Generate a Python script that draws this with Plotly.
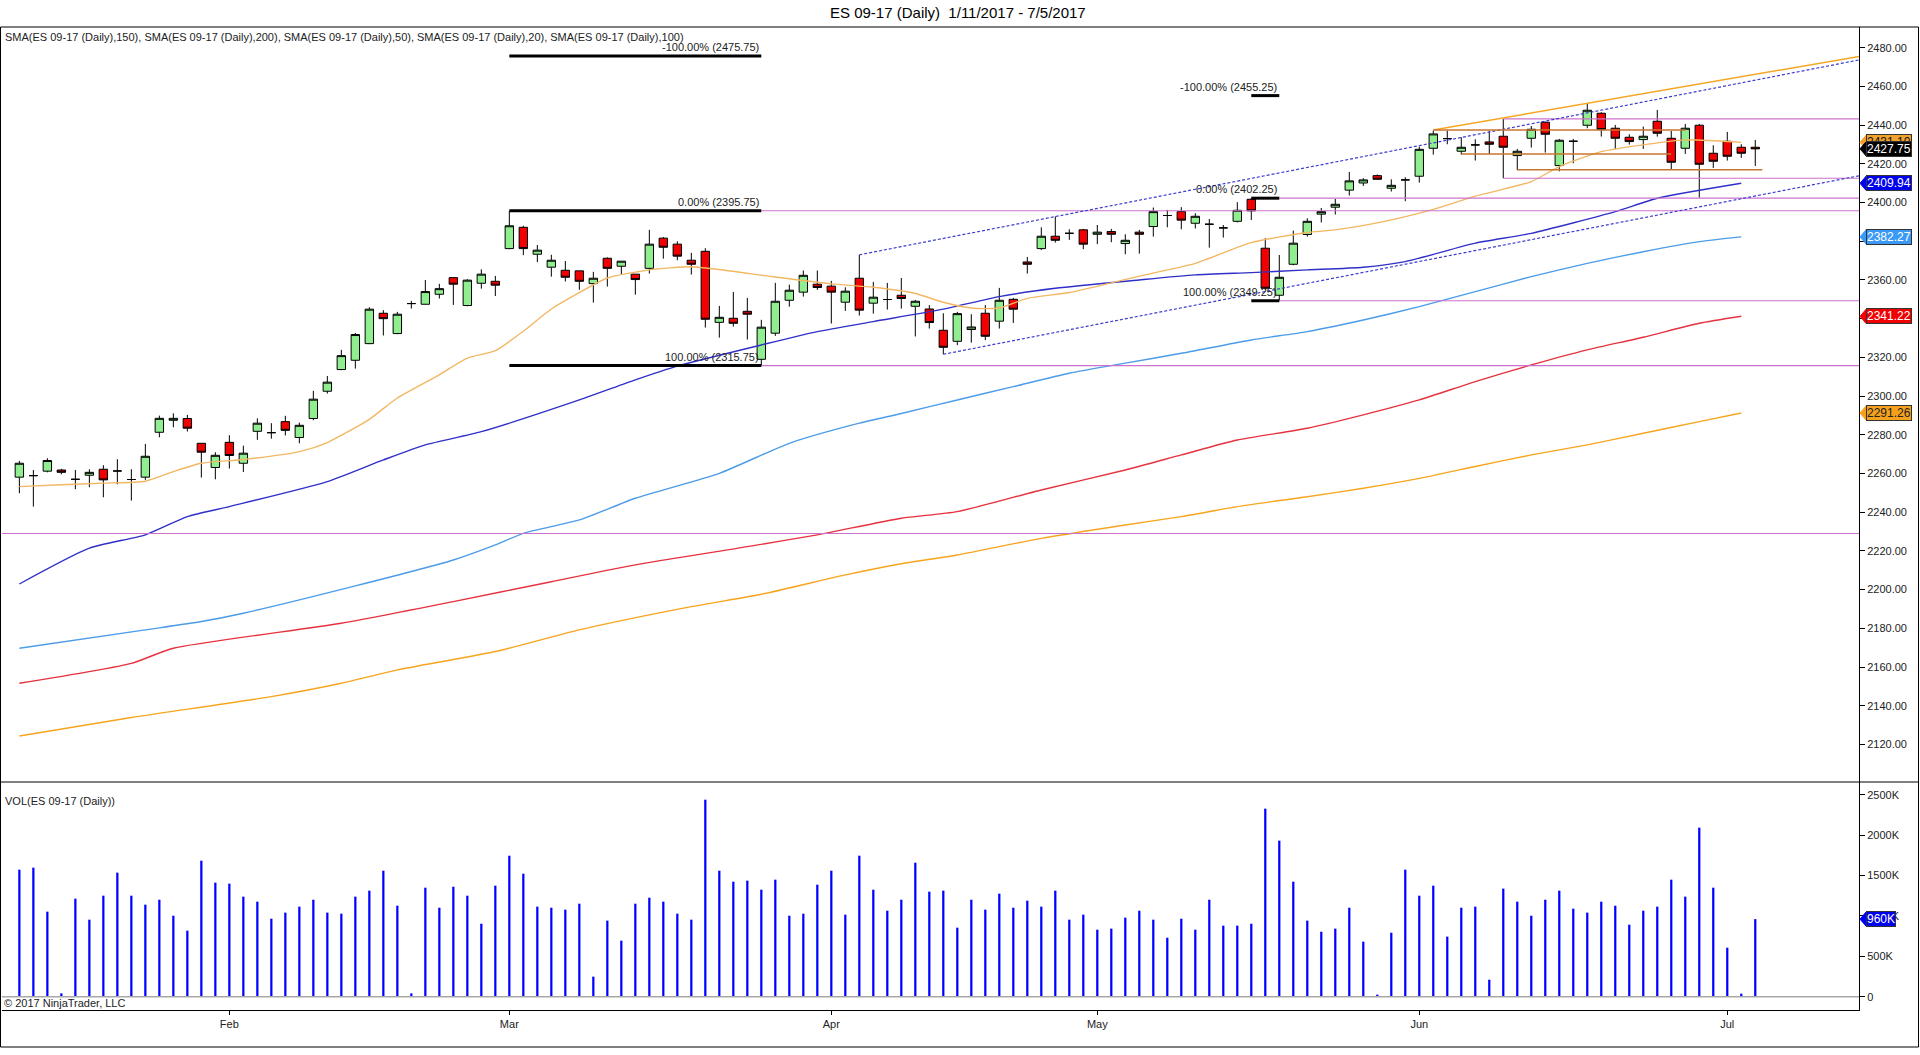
import plotly.graph_objects as go
import pandas as pd

# ---------------- text ----------------
TITLE = "ES 09-17 (Daily)  1/11/2017 - 7/5/2017"
SMA_LABEL = ("SMA(ES 09-17 (Daily),150), SMA(ES 09-17 (Daily),200), SMA(ES 09-17 (Daily),50), "
             "SMA(ES 09-17 (Daily),20), SMA(ES 09-17 (Daily),100)")
VOL_LABEL = "VOL(ES 09-17 (Daily))"
COPYRIGHT = "© 2017 NinjaTrader, LLC"

# ---------------- categories ----------------
DATES = [d for d in pd.bdate_range("2017-01-11", "2017-07-05") if d != pd.Timestamp("2017-04-14")]
MONTH_LABELS = ["Feb", "Mar", "Apr", "May", "Jun", "Jul"]
MONTH_NUMBERS = [2, 3, 4, 5, 6, 7]

# ---------------- OHLC ----------------
OPEN = [2258.1, 2258.9, 2261.2, 2261.8, 2257.0, 2259.1, 2262.2, 2261.3, 2256.9, 2258.1,
        2281.3, 2287.5, 2288.4, 2275.6, 2263.1, 2276.1, 2265.3, 2281.8, 2281.1, 2286.8,
        2278.6, 2288.4, 2302.5, 2313.7, 2318.5, 2327.1, 2342.8, 2332.3, 2347.8, 2347.45,
        2352.6, 2361.2, 2346.8, 2358.3, 2359.3,
        2376.2, 2387.2, 2373.3, 2366.6, 2365.0, 2364.7, 2358.1, 2371.2, 2367.1, 2363.0,
        2366.0, 2381.6, 2378.5, 2370.2, 2374.8, 2338.1, 2340.2, 2343.8, 2319.0, 2332.5,
        2349.5, 2353.7, 2357.8, 2356.8, 2348.5, 2360.9, 2348.0, 2349.9, 2352.1, 2346.4,
        2345.0, 2334.0, 2328.3, 2334.4, 2342.8, 2338.7, 2350.0, 2369.3, 2376.2, 2382.6,
        2384.1, 2385.9, 2383.6, 2385.0, 2378.8, 2384.7, 2387.6, 2393.3, 2395.3, 2389.3,
        2388.8, 2386.9, 2390.3, 2401.7, 2376.4, 2352.1, 2368.1, 2383.5, 2394.0, 2397.6,
        2406.4, 2410.1, 2413.9, 2407.4, 2411.7, 2413.6, 2428.05, 2433.05, 2426.5, 2429.77,
        2431.32, 2434.25, 2424.26, 2433.22, 2441.49, 2419.1, 2431.67, 2439.94, 2446.14, 2438.39,
        2433.74, 2432.53, 2442.0, 2433.22, 2428.05, 2439.94, 2425.47, 2431.67, 2428.57, 2428.57]
HIGH = [2266.5, 2261.8, 2267.9, 2262.4, 2261.8, 2262.2, 2264.3, 2267.4, 2262.2, 2275.3,
        2289.9, 2291.1, 2290.3, 2275.6, 2271.0, 2279.8, 2274.4, 2288.5, 2286.0, 2289.8,
        2286.3, 2302.7, 2310.4, 2323.9, 2332.6, 2345.9, 2344.4, 2343.5, 2349.2, 2360.0,
        2358.0, 2361.2, 2360.4, 2365.5, 2362.1,
        2395.75, 2388.0, 2378.1, 2373.0, 2369.8, 2364.7, 2364.2, 2371.7, 2369.7, 2363.0,
        2385.9, 2382.2, 2380.0, 2374.0, 2376.4, 2346.6, 2353.8, 2350.7, 2339.4, 2358.5,
        2357.6, 2364.9, 2364.9, 2359.5, 2356.2, 2373.0, 2359.0, 2358.5, 2361.0, 2349.7,
        2347.0, 2342.8, 2343.5, 2342.3, 2347.0, 2355.9, 2350.7, 2371.9, 2387.2, 2392.8,
        2386.2, 2386.4, 2388.4, 2386.4, 2383.6, 2385.9, 2397.4, 2396.2, 2397.6, 2394.5,
        2391.5, 2388.4, 2400.2, 2402.25, 2381.6, 2372.9, 2385.5, 2391.9, 2397.2, 2401.9,
        2415.8, 2412.6, 2414.5, 2412.0, 2413.1, 2428.9, 2437.18, 2437.18, 2433.74, 2432.7,
        2437.0, 2443.2, 2427.7, 2439.59, 2441.83, 2432.87, 2432.87, 2451.13, 2446.65, 2440.11,
        2435.29, 2439.25, 2447.86, 2437.01, 2440.63, 2440.63, 2429.6, 2436.49, 2430.12, 2432.36]
LOW = [2249.8, 2242.9, 2260.6, 2259.6, 2251.9, 2252.9, 2247.7, 2254.4, 2246.0, 2256.7,
       2278.7, 2283.9, 2281.7, 2257.9, 2257.0, 2262.6, 2260.8, 2277.4, 2278.0, 2279.6,
       2275.6, 2287.5, 2301.3, 2313.4, 2314.2, 2326.8, 2331.3, 2332.0, 2345.2, 2347.4,
       2350.4, 2347.1, 2346.4, 2355.5, 2351.7,
       2375.9, 2372.8, 2369.2, 2361.7, 2359.2, 2354.9, 2348.3, 2356.6, 2362.8, 2352.4,
       2363.3, 2371.0, 2370.2, 2362.8, 2335.4, 2330.2, 2335.9, 2329.2, 2315.75, 2331.1,
       2346.2, 2351.4, 2354.9, 2337.5, 2344.0, 2341.6, 2342.6, 2344.7, 2345.2, 2330.8,
       2334.9, 2321.6, 2326.3, 2327.6, 2328.9, 2334.9, 2337.8, 2363.3, 2375.5, 2379.3,
       2380.7, 2375.9, 2378.5, 2379.5, 2373.3, 2373.6, 2382.4, 2387.2, 2386.2, 2386.6,
       2376.7, 2381.9, 2389.7, 2391.0, 2354.9, 2349.25, 2367.6, 2382.4, 2389.7, 2393.8,
       2403.6, 2408.6, 2412.0, 2405.7, 2400.7, 2410.3, 2424.78, 2430.12, 2424.78, 2421.68,
       2425.12, 2412.55, 2416.68, 2428.4, 2425.81, 2416.17, 2420.3, 2438.39, 2434.08, 2427.71,
       2429.95, 2427.71, 2434.08, 2416.86, 2425.12, 2402.56, 2417.89, 2421.68, 2423.06, 2418.92]
CLOSE = [2265.3, 2258.9, 2266.7, 2260.6, 2257.0, 2260.6, 2256.7, 2261.3, 2256.9, 2268.9,
         2288.5, 2288.5, 2283.4, 2271.0, 2269.4, 2269.3, 2270.5, 2286.0, 2281.1, 2282.3,
         2284.9, 2298.4, 2307.2, 2320.9, 2331.8, 2344.9, 2340.0, 2342.3, 2347.8, 2354.0,
         2355.5, 2357.8, 2359.9, 2363.0, 2357.3,
         2388.0, 2376.2, 2375.4, 2370.2, 2361.4, 2359.3, 2360.9, 2366.0, 2369.7, 2360.2,
         2378.5, 2376.9, 2372.3, 2368.1, 2339.7, 2340.7, 2337.6, 2342.3, 2335.6, 2349.0,
         2354.7, 2362.4, 2356.1, 2353.7, 2354.2, 2344.4, 2351.1, 2349.9, 2350.4, 2349.0,
         2338.0, 2325.2, 2342.6, 2335.7, 2330.9, 2349.5, 2344.9, 2368.1, 2382.6, 2380.5,
         2384.1, 2378.5, 2384.7, 2383.6, 2380.5, 2383.6, 2395.3, 2393.3, 2390.9, 2392.9,
         2388.8, 2386.9, 2396.0, 2395.7, 2355.7, 2361.4, 2379.0, 2390.3, 2395.3, 2399.1,
         2411.2, 2411.7, 2412.0, 2408.9, 2411.7, 2427.5, 2435.46, 2433.05, 2428.57, 2429.77,
         2430.12, 2428.57, 2426.5, 2437.87, 2435.29, 2432.19, 2431.67, 2447.69, 2437.7, 2433.22,
         2431.5, 2434.25, 2435.8, 2420.82, 2438.39, 2419.78, 2421.33, 2423.92, 2425.47, 2427.75]

# volume in thousands of contracts
VOLUME_K = [1572, 1597, 1052, 41, 1213, 953, 1250, 1535, 1250, 1139,
            1200, 1002, 817, 1683, 1411, 1399, 1238, 1176, 965, 1040,
            1114, 1200, 1040, 1027, 1238, 1312, 1559, 1126, 41, 1349,
            1101, 1361, 1250, 903, 1374, 1745, 1522, 1114, 1101, 1077,
            1151, 248, 941, 693, 1151, 1225, 1176, 1027, 953, 2438,
            1559, 1423, 1436, 1324, 1448, 1002, 1027, 1386, 1559, 1015,
            1745, 1324, 1064, 1200, 1658, 1300, 1312, 854, 1200, 1077,
            1275, 1101, 1188, 1114, 1312, 953, 1015, 829, 842, 978,
            1064, 953, 730, 965, 829, 1200, 879, 879, 903, 2327,
            1931, 1423, 941, 804, 842, 1101, 681, 25, 792, 1572,
            1250, 1374, 743, 1101, 1114, 210, 1337, 1176, 1002, 1200,
            1312, 1089, 1040, 1176, 1126, 891, 1064, 1114, 1448, 1238,
            2092, 1349, 606, 37, 960]

# ---------------- moving averages (read at sample bars) ----------------
SMA20_BAR = [0, 3, 6, 9, 11, 13, 16, 20, 22, 25, 27, 30, 32, 34, 36, 38, 40, 42, 45, 48, 50, 54, 58, 61,
             64, 66, 68, 70, 72, 75, 80, 84, 88, 92, 94, 97, 101, 104, 108, 110, 113, 116, 119, 123]
SMA20_VAL = [2253.2, 2254.2, 2255.0, 2256.0, 2261.0, 2265.3, 2267.2, 2271.3, 2276.0, 2288.0, 2299.0,
             2311.0, 2319.6, 2323.5, 2333.5, 2345.0, 2353.5, 2361.0, 2365.2, 2366.8, 2365.4, 2361.5,
             2358.0, 2356.2, 2353.0, 2348.5, 2345.5, 2345.5, 2350.5, 2353.5, 2362.0, 2368.6, 2379.3,
             2384.5, 2385.9, 2389.5, 2396.5, 2403.3, 2410.8, 2418.6, 2426.3, 2429.8, 2432.4, 2431.1]
SMA50_BAR = [0, 5, 9, 12, 15, 22, 26, 29, 33, 40, 44, 47, 53, 57, 61, 66, 70, 74, 80, 84, 88, 92,
             96, 99, 104, 108, 114, 117, 123]
SMA50_VAL = [2202.9, 2221.4, 2228.3, 2237.7, 2242.9, 2255.8, 2267.0, 2274.8, 2281.6, 2298.0, 2308.4,
             2315.5, 2326.4, 2333.3, 2338.5, 2344.9, 2351.4, 2355.7, 2360.0, 2362.6, 2363.8, 2365.2,
             2366.6, 2369.5, 2379.0, 2384.1, 2395.3, 2402.2, 2409.94]
SMA100_BAR = [0, 9, 13, 16, 24, 31, 34, 36, 40, 44, 50, 55, 60, 63, 67, 71, 75, 79, 83, 88, 92, 96,
              100, 104, 108, 112, 116, 120, 123]
SMA100_VAL = [2169.7, 2179.2, 2183.5, 2187.8, 2201.9, 2215.3, 2223.1, 2229.1, 2236.0, 2247.2, 2260.1,
              2275.6, 2286.0, 2291.0, 2298.0, 2304.9, 2311.8, 2317.0, 2322.1, 2329.0, 2333.3, 2339.3,
              2346.2, 2354.0, 2361.7, 2368.6, 2374.6, 2379.8, 2382.27]
SMA150_BAR = [0, 8, 11, 23, 31, 38, 44, 52, 57, 63, 67, 73, 79, 83, 87, 92, 96, 100, 104, 108, 112,
              116, 120, 123]
SMA150_VAL = [2151.6, 2161.9, 2169.7, 2182.6, 2193.8, 2204.1, 2212.8, 2222.2, 2228.3, 2236.9, 2240.3,
              2251.5, 2261.8, 2269.6, 2277.3, 2283.4, 2290.3, 2298.0, 2307.5, 2316.1, 2323.9, 2330.4,
              2337.6, 2341.22]
SMA200_BAR = [0, 8, 18, 23, 27, 34, 40, 48, 53, 59, 63, 67, 73, 79, 83, 87, 92, 96, 100, 104, 108,
              112, 116, 120, 123]
SMA200_VAL = [2124.4, 2133.9, 2144.7, 2151.6, 2158.5, 2168.0, 2179.2, 2191.2, 2197.6, 2207.6, 2213.4,
              2217.9, 2226.5, 2233.4, 2237.7, 2242.9, 2248.0, 2252.4, 2257.5, 2263.6, 2269.6, 2274.8,
              2280.8, 2286.8, 2291.26]

# ---------------- drawing objects (bar index, price) ----------------
FIB1_BARS = [35, 53]
FIB1_LEVELS = [2475.75, 2395.75, 2315.75]
FIB2_BARS = [88, 90]
FIB2_LEVELS = [2455.25, 2402.25, 2349.25]
FIB_PCTS = ["-100.00%", "0.00%", "100.00%"]
RAY_START_BAR = [53, 53, 90, 90, 106, 106]
RAY_PRICE = [2395.75, 2315.75, 2402.25, 2349.25, 2443.2, 2412.55]
FULL_LINE_PRICE = 2229.0
CHANNEL_START_BAR = [60, 66]
CHANNEL_START_PRICE = [2373.0, 2321.6]
CHANNEL_SLOPE = 1.41
ORANGE_TREND = (101, 2437.5, 1.25)
BROWN_LEVEL_BARS = [(101, 119), (103, 118), (107, 124.5)]
BROWN_LEVEL_PRICE = [2437.5, 2425.1, 2416.9]

# ---------------- page geometry ----------------
W, H = 1920, 1055
PL, PR, PT, PB = 2, 1859, 27, 1010
SEP_Y = 782
X_RANGE = [-1.24, 131.41]
PRICE_RANGE = [2100.6, 2490.7]
VOL_RANGE = [-165, 2657]
FONT = "Liberation Sans, Arial, sans-serif"


def px(X):
    return (X - PL) / (PR - PL)


def py(Y):
    return (PB - Y) / (PB - PT)


bars = list(range(len(DATES)))
month_ticks = [next(i for i, d in enumerate(DATES) if d.month == m) for m in MONTH_NUMBERS]
split = py(SEP_Y)

fig = go.Figure()

sma_specs = [
    (SMA200_BAR, SMA200_VAL, "#F7A51E"),
    (SMA150_BAR, SMA150_VAL, "#E6323E"),
    (SMA100_BAR, SMA100_VAL, "#4C9CE8"),
    (SMA50_BAR, SMA50_VAL, "#3030C8"),
    (SMA20_BAR, SMA20_VAL, "#F2B763"),
]
for xb, yv, col in sma_specs:
    fig.add_trace(go.Scatter(x=xb, y=yv, mode="lines",
                             line=dict(color=col, width=1.4, shape="spline", smoothing=0.6),
                             hoverinfo="skip", showlegend=False, xaxis="x", yaxis="y"))

fig.add_trace(go.Candlestick(
    x=bars, open=OPEN, high=HIGH, low=LOW, close=CLOSE,
    increasing=dict(fillcolor="#90EE90", line=dict(color="black", width=1)),
    decreasing=dict(fillcolor="#F00000", line=dict(color="black", width=1)),
    whiskerwidth=0, hoverinfo="skip", showlegend=False, xaxis="x", yaxis="y"))

fig.add_trace(go.Bar(x=bars, y=VOLUME_K, width=0.16, marker=dict(color="#0000FF", line=dict(width=0)),
                     hoverinfo="skip", showlegend=False, xaxis="x2", yaxis="y2"))

shapes = []
annotations = []

# horizontal rays (magenta)
MAG = "#CC72CC"
for b, p in zip(RAY_START_BAR, RAY_PRICE):
    shapes.append(dict(type="line", xref="x", yref="y", x0=b, x1=X_RANGE[1], y0=p, y1=p,
                       line=dict(color=MAG, width=1.2)))
shapes.append(dict(type="line", xref="x", yref="y", x0=X_RANGE[0], x1=X_RANGE[1],
                   y0=FULL_LINE_PRICE, y1=FULL_LINE_PRICE, line=dict(color=MAG, width=1.2)))

# channel (dashed)
for b, p in zip(CHANNEL_START_BAR, CHANNEL_START_PRICE):
    shapes.append(dict(type="line", xref="x", yref="y", x0=b, y0=p, x1=X_RANGE[1],
                       y1=p + CHANNEL_SLOPE * (X_RANGE[1] - b),
                       line=dict(color="#3C3CD2", width=1.2, dash="3px,2px")))
# orange trend line
ob, op, osl = ORANGE_TREND
shapes.append(dict(type="line", xref="x", yref="y", x0=ob, y0=op, x1=X_RANGE[1],
                   y1=op + osl * (X_RANGE[1] - ob), line=dict(color="#F5A623", width=1.5)))
# brown horizontal levels
for (b0, b1), p in zip(BROWN_LEVEL_BARS, BROWN_LEVEL_PRICE):
    shapes.append(dict(type="line", xref="x", yref="y", x0=b0, x1=b1, y0=p, y1=p,
                       line=dict(color="#C8742E", width=1.5)))

# fib retracements
for fb, lv in [(FIB1_BARS, FIB1_LEVELS), (FIB2_BARS, FIB2_LEVELS)]:
    for pct, p in zip(FIB_PCTS, lv):
        shapes.append(dict(type="line", xref="x", yref="y", x0=fb[0], x1=fb[1], y0=p, y1=p,
                           line=dict(color="black", width=3)))
        annotations.append(dict(xref="x", yref="y", x=fb[1], y=p, xanchor="right", yanchor="bottom",
                                text=f"{pct} ({p:.2f})", showarrow=False, yshift=1,
                                font=dict(family=FONT, size=11, color="#222")))

# volume zero line
shapes.append(dict(type="line", xref="paper", yref="y2", x0=0, x1=1, y0=0, y1=0,
                   line=dict(color="#A8A8A8", width=1.5)))
# panel separator and outer frame
shapes.append(dict(type="line", xref="paper", yref="paper", x0=px(0), x1=px(1919), y0=split, y1=split,
                   line=dict(color="black", width=1)))
shapes.append(dict(type="rect", xref="paper", yref="paper", x0=px(0.5), x1=px(1918.5), y0=py(1047), y1=py(PT),
                   line=dict(color="black", width=1)))

# value flags on the right axis
def add_flag(val, text, bg, fg, yref, half):
    xa, xb = px(PR + 1), px(PR + 7)
    shapes.append(dict(type="path", xref="paper", yref=yref,
                       path=f"M {xa},{val} L {xb},{val + half} L {xb},{val - half} Z",
                       fillcolor=bg, line=dict(color=bg, width=1)))
    annotations.append(dict(xref="paper", yref=yref, x=xb, y=val, xanchor="left", yanchor="middle",
                            text=text, showarrow=False, bgcolor=bg, bordercolor="#333", borderwidth=1,
                            borderpad=0, font=dict(family=FONT, size=12, color=fg)))

add_flag(SMA20_VAL[-1], f"{SMA20_VAL[-1]:.2f}", "#F0A22C", "#111", "y", 3.6)
add_flag(CLOSE[-1], f"{CLOSE[-1]:.2f}", "#000000", "white", "y", 3.6)
add_flag(SMA50_VAL[-1], f"{SMA50_VAL[-1]:.2f}", "#0000F0", "white", "y", 3.6)
add_flag(SMA100_VAL[-1], f"{SMA100_VAL[-1]:.2f}", "#3A9AF5", "white", "y", 3.6)
add_flag(SMA150_VAL[-1], f"{SMA150_VAL[-1]:.2f}", "#F00000", "white", "y", 3.6)
add_flag(SMA200_VAL[-1], f"{SMA200_VAL[-1]:.2f}", "#F5A11C", "#222", "y", 3.6)
add_flag(VOLUME_K[-1], f"{VOLUME_K[-1]}K", "#0000F0", "white", "y2", 87)

# texts
annotations.append(dict(xref="paper", yref="paper", x=px(958), y=py(13), xanchor="center", yanchor="middle",
                        text=TITLE, showarrow=False, font=dict(family=FONT, size=15, color="black")))
annotations.append(dict(xref="paper", yref="paper", x=px(3), y=py(37), xanchor="left", yanchor="middle",
                        text=SMA_LABEL, showarrow=False, font=dict(family=FONT, size=11, color="#222")))
annotations.append(dict(xref="paper", yref="paper", x=px(3), y=py(801), xanchor="left", yanchor="middle",
                        text=VOL_LABEL, showarrow=False, font=dict(family=FONT, size=11, color="#222")))
annotations.append(dict(xref="paper", yref="paper", x=px(2), y=py(1003), xanchor="left", yanchor="middle",
                        text=COPYRIGHT, showarrow=False, font=dict(family=FONT, size=11, color="#222")))

vol_ticks = [0, 500, 1000, 1500, 2000, 2500]
fig.update_layout(
    width=W, height=H,
    margin=dict(l=PL, r=W - PR, t=PT, b=H - PB, pad=0),
    paper_bgcolor="white", plot_bgcolor="white",
    font=dict(family=FONT, size=11, color="#222"),
    showlegend=False, boxgap=0.2, boxgroupgap=0.25,
    xaxis=dict(domain=[0, 1], anchor="y", range=X_RANGE, showticklabels=False, ticks="",
               showgrid=False, zeroline=False, showline=False, rangeslider=dict(visible=False)),
    xaxis2=dict(domain=[0, 1], anchor="y2", range=X_RANGE, tickmode="array", tickvals=month_ticks,
                ticktext=MONTH_LABELS, ticks="outside", ticklen=4, tickcolor="black",
                showgrid=False, zeroline=False, showline=True, linecolor="black", linewidth=1,
                tickfont=dict(family=FONT, size=11, color="#222")),
    yaxis=dict(domain=[split, 1], anchor="x", side="right", range=PRICE_RANGE, dtick=20, tick0=0,
               tickformat=".2f", ticks="outside", ticklen=5, tickcolor="black", showgrid=False,
               zeroline=False, showline=True, linecolor="black", linewidth=1,
               tickfont=dict(family=FONT, size=11, color="#222")),
    yaxis2=dict(domain=[0, split], anchor="x2", side="right", range=VOL_RANGE, tickmode="array",
                tickvals=vol_ticks, ticktext=[f"{v}K" if v else "0" for v in vol_ticks],
                ticks="outside", ticklen=5, tickcolor="black", showgrid=False, zeroline=False,
                showline=True, linecolor="black", linewidth=1,
                tickfont=dict(family=FONT, size=11, color="#222")),
    shapes=shapes, annotations=annotations,
)

fig.write_html("out.html", config={"displayModeBar": False},
               post_script="document.body.style.margin='0';document.body.style.overflow='hidden';")
